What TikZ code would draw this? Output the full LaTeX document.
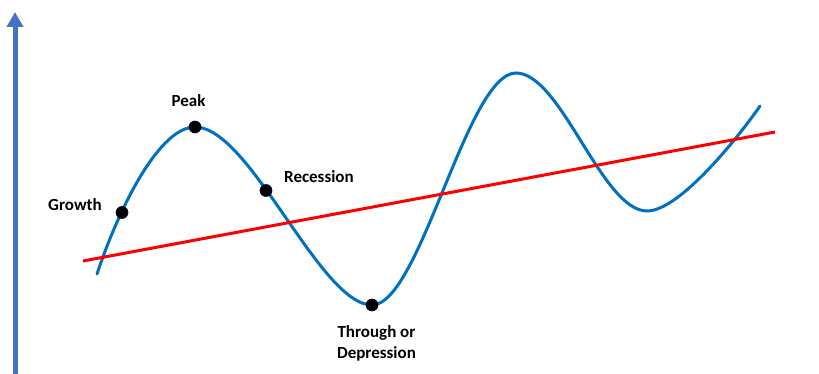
\documentclass[tikz,border=0pt]{standalone}
\usepackage{fontspec}
\setmainfont{Carlito}
\usetikzlibrary{arrows.meta}
\definecolor{axisblue}{HTML}{4472C4}
\definecolor{curveblue}{HTML}{0070C0}
\definecolor{trendred}{HTML}{FF0000}
\tikzset{
  axisline/.style={draw=axisblue, line width=5pt, -{Triangle[width=16pt,length=15pt]}},
  cycleline/.style={draw=curveblue, line width=3pt},
  trendline/.style={draw=trendred, line width=3pt},
  phasedot/.style={circle, fill=black, draw=black!80!blue, line width=0.6pt, inner sep=0pt, minimum size=12pt},
  phaselabel/.style={font=\fontsize{17}{21}\selectfont\bfseries, inner sep=0pt, text=black}
}
\begin{document}
\begin{tikzpicture}[x=1pt,y=-1pt]
\useasboundingbox (0,0) rectangle (819,374);
% axis
\coordinate (axbot) at (15,376);
\coordinate (axtop) at (15,12);
\draw[axisline] (axbot) -- (axtop);
% curve points
\coordinate (c0) at (97,274);
\coordinate (cpeak) at (195,127);
\coordinate (ctrough) at (372,305);
\coordinate (cmax) at (516,73);
\coordinate (cmin) at (647,211);
\coordinate (cend) at (760,106);
\draw[cycleline, line cap=round]
  (c0) .. controls (120,205) and (160,127) .. (cpeak)
       .. controls (250,127) and (320,305) .. (ctrough)
       .. controls (420,305) and (467,73) .. (cmax)
       .. controls (561,73) and (602,211) .. (cmin)
       .. controls (680,211) and (740,135) .. (cend);
% trend line
\coordinate (r0) at (83,261);
\coordinate (r1) at (775,132);
\draw[trendline] (r0) -- (r1);
% dots
\node[phasedot] (growth) at (122,212.5) {};
\node[phasedot] (peak) at (195,127) {};
\node[phasedot] (recession) at (266,190.5) {};
\node[phasedot] (trough) at (372,305) {};
% labels
\node[phaselabel, anchor=base] (lpeak) at (188.5,107) {Peak};
\node[phaselabel, anchor=base] (lgrowth) at (75,210.5) {Growth};
\node[phaselabel, anchor=base west] (lrec) at (284,182.5) {Recession};
\node[phaselabel, anchor=north, align=center] (ltrough) at (376.5,325) {Through or\\Depression};
\end{tikzpicture}
\end{document}
